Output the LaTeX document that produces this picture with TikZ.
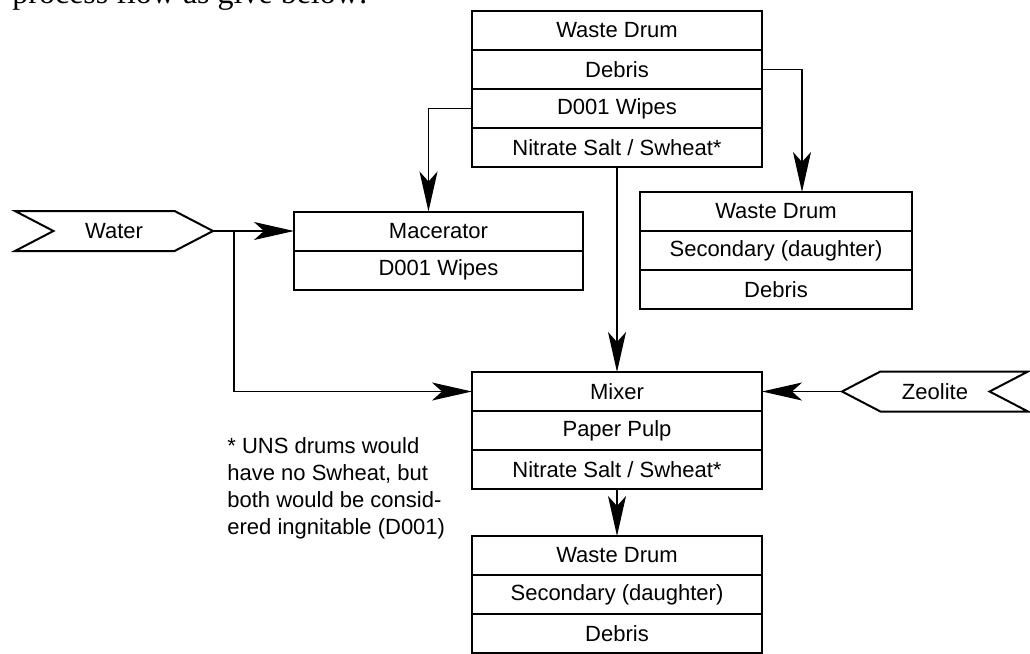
\documentclass[tikz,border=0pt]{standalone}
\usepackage{fontspec}
\setmainfont{Liberation Serif}
\setsansfont{Liberation Sans}
\usetikzlibrary{arrows.meta,positioning,shapes.symbols}
\tikzset{
  cell/.style={draw,line width=1pt,minimum height=19.5pt,inner sep=0pt,outer sep=0pt,
    font=\sffamily\fontsize{11}{13}\selectfont},
  wide/.style={cell,minimum width=145pt},
  narrow/.style={cell,minimum width=136pt},
  feed/.style={draw,line width=1pt,signal,signal pointer angle=55,minimum width=99pt,
    minimum height=20pt,inner sep=0pt,outer sep=0pt,font=\sffamily\fontsize{11}{13}\selectfont},
  ar/.style={line width=0.8pt,-{Stealth[length=20pt,width=9pt,inset=5pt]}},
  note/.style={font=\sffamily\fontsize{11}{13.5}\selectfont,align=left,inner sep=0pt},
}

\begin{document}
\begin{tikzpicture}[x=0.5pt,y=-0.5pt]
  \useasboundingbox (0,0) rectangle (1030,654);
  % tail of the page text above the figure
  \node[anchor=base west,inner sep=0pt,font=\fontsize{16}{19}\selectfont] (intro) at (12,3) {process flow as give below:};

  % incoming waste drum
  \node[wide] (top1) at (617,30.5) {Waste Drum};
  \node[wide,below=0pt of top1] (top2) {Debris};
  \node[wide,below=0pt of top2] (top3) {D001 Wipes};
  \node[wide,below=0pt of top3] (top4) {Nitrate Salt / Swheat*};

  % macerator
  \node[cell,minimum width=144.5pt] (mac1) at (438.5,231) {Macerator};
  \node[cell,minimum width=144.5pt,below=0pt of mac1] (mac2) {D001 Wipes};

  % secondary drum for the debris
  \node[narrow] (sec1) at (776,211.5) {Waste Drum};
  \node[narrow,below=0pt of sec1] (sec2) {Secondary (daughter)};
  \node[narrow,below=0pt of sec2] (sec3) {Debris};

  % mixer
  \node[wide] (mix1) at (617,391.5) {Mixer};
  \node[wide,below=0pt of mix1] (mix2) {Paper Pulp};
  \node[wide,below=0pt of mix2] (mix3) {Nitrate Salt / Swheat*};

  % outgoing drum
  \node[wide] (out1) at (617,555.5) {Waste Drum};
  \node[wide,below=0pt of out1] (out2) {Secondary (daughter)};
  \node[wide,below=0pt of out2] (out3) {Debris};

  % feeds
  \node[feed,signal from=west,signal to=east] (water) at (114,231) {Water};
  \node[feed,signal from=east,signal to=west,minimum width=93pt] (zeo) at (935,391.5) {Zeolite};
  \coordinate (split) at (234,231);

  \node[note,anchor=north west] (fn) at (227,437) {* UNS drums would\\have no Swheat, but\\both would be consid-\\ered ingnitable (D001)};

  % flows
  \draw[ar] (water.east) -- (mac1.west);
  \draw[ar] (split) |- (mix1.west);
  \draw[ar] (top3.west) -| ([xshift=-5pt]mac1.north);
  \draw[ar] (top2.east) -| ([xshift=13pt]sec1.north);
  \draw[ar] (top4.south) -- (mix1.north);
  \draw[ar] (zeo.west) -- (mix1.east);
  \draw[ar] (mix3.south) -- (out1.north);
\end{tikzpicture}
\end{document}
